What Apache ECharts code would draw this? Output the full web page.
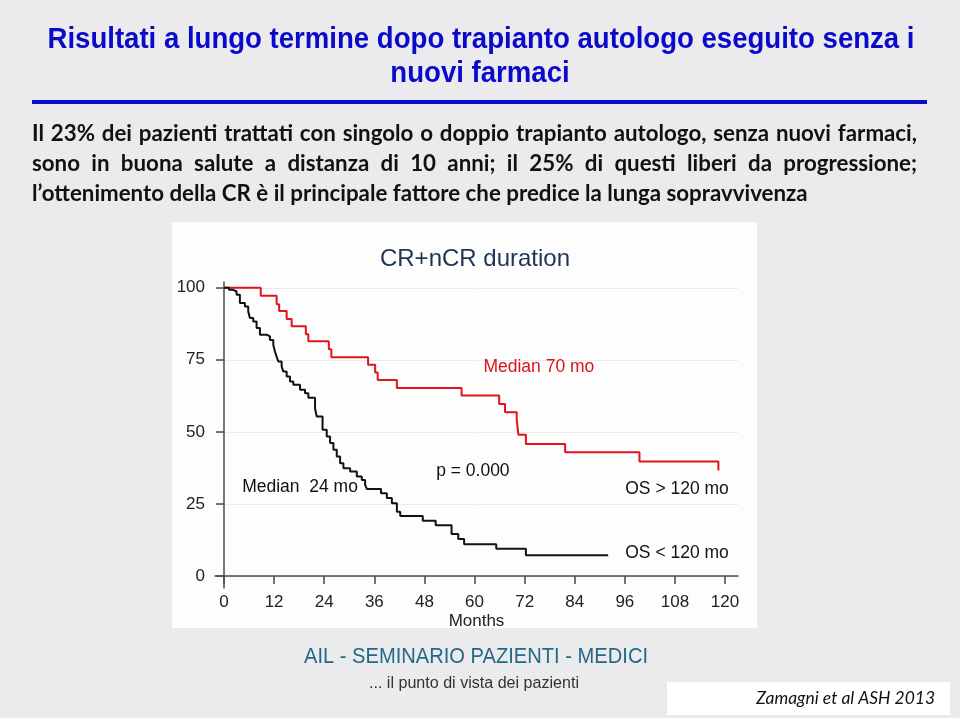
<!DOCTYPE html>
<html><head><meta charset="utf-8">
<script src="https://cdn.jsdelivr.net/npm/echarts@6/dist/echarts.min.js"></script>
<style>html,body{margin:0;padding:0;background:#ebebed}#c{width:960px;height:718px}</style>
</head><body><div id="c"></div>
<script>
// ---------- data ----------
const titleLines = ['Risultati a lungo termine dopo trapianto autologo eseguito senza i', 'nuovi farmaci'];
const bodyLines = [
  'Il 23% dei pazienti trattati con singolo o doppio trapianto autologo, senza nuovi farmaci,',
  'sono in buona salute a distanza di 10 anni; il 25% di questi liberi da progressione;',
  'l\u2019ottenimento della CR è il principale fattore che predice la lunga sopravvivenza'
];
const footerTitle = 'AIL - SEMINARIO PAZIENTI - MEDICI';
const footerSub = '... il punto di vista dei pazienti';
const citation = 'Zamagni et al ASH 2013';
const chartTitle = 'CR+nCR duration';
const xAxisName = 'Months';
const xTicks = [0, 12, 24, 36, 48, 60, 72, 84, 96, 108, 120];
const yTicks = [0, 25, 50, 75, 100];

// OS > 120 mo (red)
const redMonths = [0, 8.8, 12.6, 13.2, 15.0, 16.2, 19.6, 20.2, 25.1, 25.7, 34.5, 36.2, 36.8, 41.4, 56.9, 65.9, 67.3, 70.1, 70.5, 72.3, 81.7, 99.5, 118.4];
const redSurv   = [100, 97.2, 94.3, 91.9, 89.2, 86.6, 83.9, 81.4, 78.7, 75.9, 73.3, 70.6, 68.0, 65.2, 62.6, 59.7, 56.8, 54.2, 49.0, 45.8, 42.9, 39.7, 36.6];
// OS < 120 mo (black)
const blackMonths = [0, 1.2, 2.2, 3.0, 3.8, 5.0, 5.8, 6.2, 7.0, 7.8, 8.6, 10.2, 11.0, 11.8, 12.2, 12.6, 13.0, 13.8, 14.2, 15.0, 15.8, 16.6, 18.2, 19.4, 20.2, 21.8, 22.2, 23.6, 24.6, 25.4, 26.2, 27.0, 27.8, 28.6, 30.2, 31.8, 33.0, 33.8, 34.2, 37.6, 39.0, 40.2, 41.4, 42.2, 47.6, 50.7, 54.5, 56.1, 57.5, 65.2, 72.3, 92.0];
const blackSurv   = [100, 99.3, 98.7, 97.6, 94.7, 93.5, 91.8, 89.5, 88.3, 86.0, 83.7, 83.1, 81.9, 80.2, 77.9, 76.1, 74.4, 72.7, 70.9, 69.2, 67.5, 66.3, 64.6, 63.4, 61.8, 58.2, 55.3, 50.7, 48.4, 46.1, 43.8, 41.4, 39.1, 37.4, 36.2, 34.5, 33.3, 31.6, 30.2, 28.7, 27.0, 25.2, 22.3, 20.8, 19.1, 17.6, 14.5, 12.8, 11.0, 9.4, 7.2, 7.2];

const annotTexts = ['Median 70 mo', 'p = 0.000', 'Median  24 mo', 'OS > 120 mo', 'OS < 120 mo'];
const annotX = [75.4, 59.6, 18.2, 108.5, 108.5];
const annotY = [72.6, 36.4, 30.9, 30.2, 8.0];
const annotIsRed = [true, false, false, false, false];

// ---------- layout helpers ----------
const mctx = document.createElement('canvas').getContext('2d');
function measure(text, font) { mctx.font = font; return mctx.measureText(text).width; }
function fitSize(text, style, weight, family, target) {
  const base = 20;
  return base * target / measure(text, `${style} ${weight} ${base}px ${family}`);
}
function squeezedText(text, x, y, font, target, align, fill) {
  const sx = target / measure(text, font);
  return { type: 'text', x: x, y: y, scaleX: sx, scaleY: 1,
    style: { text: text, font: font, fill: fill, align: align, verticalAlign: 'middle', textAlign: align, textVerticalAlign: 'middle' } };
}

const graphics = [];
graphics.push({ type: 'rect', z: -10, shape: { x: 172, y: 222, width: 585, height: 406 }, style: { fill: '#fdfdfd' }, silent: true });

const TF = '"Liberation Sans", Arial, sans-serif';
const titleFont = `bold 29px ${TF}`;
const tScale = 867 / measure(titleLines[0], titleFont);
graphics.push(squeezedText(titleLines[0], 481, 40, titleFont, 867, 'center', '#0a0acb'));
graphics.push(squeezedText(titleLines[1], 480, 74, titleFont, measure(titleLines[1], titleFont) * tScale, 'center', '#0a0acb'));
graphics.push({ type: 'rect', shape: { x: 32, y: 100, width: 895, height: 4 }, style: { fill: '#0c0cc8' } });

const BF = 'Lato, "Open Sans", sans-serif';
const bodySize = fitSize(bodyLines[2], 'normal', 'bold', BF, 776);
const bodyFont = `bold ${bodySize}px ${BF}`;
const bodyY = [134, 164, 194];
bodyLines.forEach((line, li) => {
  if (li === bodyLines.length - 1) {
    graphics.push({ type: 'text', x: 32, y: bodyY[li], style: { text: line, font: bodyFont, fill: '#111111', align: 'left', verticalAlign: 'middle', textAlign: 'left', textVerticalAlign: 'middle' } });
    return;
  }
  const words = line.split(' ');
  const widths = words.map(w => measure(w, bodyFont));
  const total = widths.reduce((a, b) => a + b, 0);
  const gap = (917 - 32 - total) / (words.length - 1);
  let x = 32;
  words.forEach((w, i) => {
    graphics.push({ type: 'text', x: x, y: bodyY[li], style: { text: w, font: bodyFont, fill: '#111111', align: 'left', verticalAlign: 'middle', textAlign: 'left', textVerticalAlign: 'middle' } });
    x += widths[i] + gap;
  });
});

graphics.push(squeezedText(footerTitle, 304, 657, `normal 22px ${TF}`, 344, 'left', '#23698a'));
graphics.push(squeezedText(footerSub, 369, 684, `normal 16px ${TF}`, 210, 'left', '#333333'));
graphics.push({ type: 'rect', shape: { x: 667, y: 682, width: 283, height: 33 }, style: { fill: '#ffffff' } });
const ciSize = fitSize(citation, 'italic', 'normal', BF, 179);
graphics.push({ type: 'text', x: 935, y: 698, style: { text: citation, font: `italic normal ${ciSize}px ${BF}`, fill: '#111111', align: 'right', verticalAlign: 'middle', textAlign: 'right', textVerticalAlign: 'middle' } });

const AF = '"Liberation Sans", Arial, sans-serif';
const axisColor = '#4a4a4a';

const chart = echarts.init(document.getElementById('c'), null, { renderer: 'canvas' });
chart.setOption({
  backgroundColor: '#ebebed',
  animation: false,
  title: {
    text: chartTitle, left: 475, top: 247, textAlign: 'center', padding: 0,
    textStyle: { fontFamily: AF, fontSize: 24, fontWeight: 'normal', color: '#1f3352' }
  },
  grid: { left: 215, right: 222, top: 282, bottom: 130, containLabel: false },
  xAxis: {
    type: 'value', min: -2.16, max: 123.1,
    axisLine: { onZero: true, lineStyle: { color: axisColor, width: 1.5 } },
    axisTick: { customValues: xTicks, length: 8, lineStyle: { color: axisColor, width: 1.5 } },
    axisLabel: { customValues: xTicks, fontFamily: AF, fontSize: 17, color: '#222', margin: 6 },
    splitLine: { show: false },
    name: xAxisName, nameLocation: 'middle', nameGap: 25,
    nameTextStyle: { fontFamily: AF, fontSize: 17, color: '#222' }
  },
  yAxis: {
    type: 'value', min: -4.2, max: 102,
    axisLine: { onZero: true, lineStyle: { color: axisColor, width: 1.5 } },
    axisTick: { customValues: yTicks, length: 8, lineStyle: { color: axisColor, width: 1.5 } },
    axisLabel: { customValues: yTicks, fontFamily: AF, fontSize: 17, color: '#222', margin: 10 },
    splitLine: { show: true, lineStyle: { color: '#ebebeb', width: 1 } }
  },
  graphic: graphics,
  series: [
    {
      type: 'line', step: 'end', showSymbol: false, symbol: 'none', z: 3,
      data: redMonths.map((m, i) => [m, redSurv[i]]),
      lineStyle: { color: '#e3131b', width: 2 }
    },
    {
      type: 'line', step: 'end', showSymbol: false, symbol: 'none', z: 3,
      data: blackMonths.map((m, i) => [m, blackSurv[i]]),
      lineStyle: { color: '#111111', width: 2 }
    },
    {
      type: 'scatter', symbolSize: 0, silent: true, z: 4,
      itemStyle: { opacity: 1 },
      data: annotTexts.map((t, i) => ({
        name: t, value: [annotX[i], annotY[i]],
        label: { color: annotIsRed[i] ? '#d8141c' : '#111111' }
      })),
      label: { show: true, position: 'inside', formatter: p => p.name, fontFamily: AF, fontSize: 17.5, textBorderWidth: 0, textShadowBlur: 0 }
    }
  ]
});
</script>
</body></html>
